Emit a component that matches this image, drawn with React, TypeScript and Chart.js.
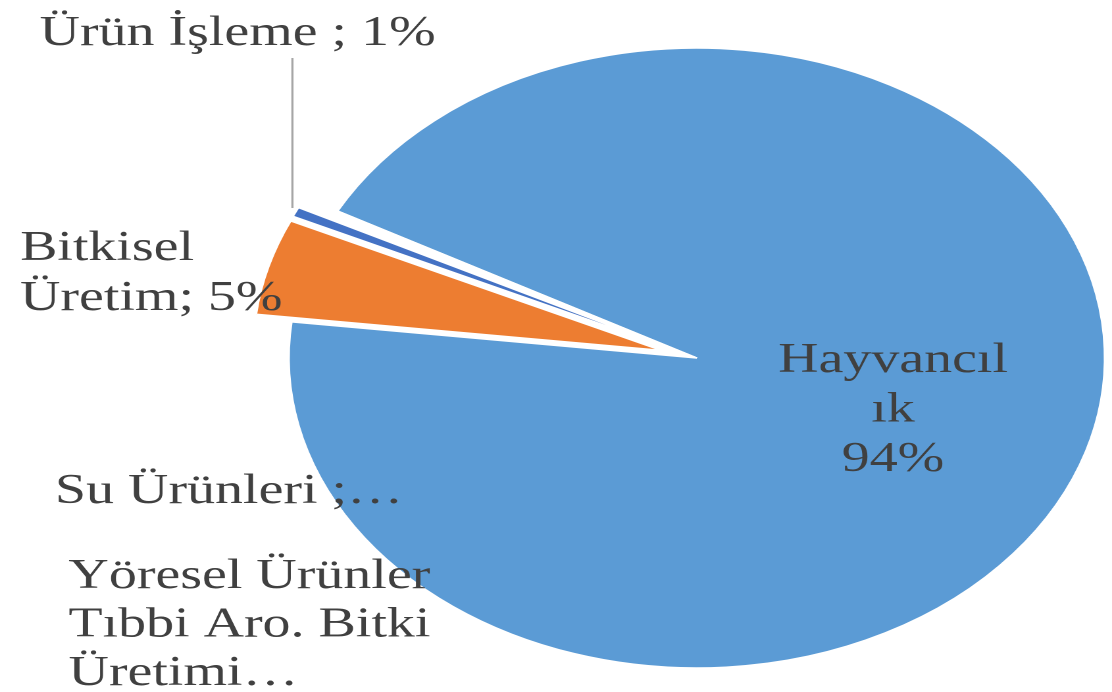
import React, { useEffect, useRef } from "react";
import { Chart, registerables } from "chart.js";

Chart.register(...registerables);

// ---- data ----
const categories = [
  "Hayvancılık",
  "Bitkisel Üretim",
  "Ürün İşleme",
  "Su Ürünleri",
  "Yöresel Ürünler Tıbbi Aro. Bitki Üretimi",
];
const shares = [94.0, 5.0, 0.5, 0.25, 0.25];
const pctText = ["94%", "5%", "1%"];

// ---- style ----
const STRETCH = 1.316;
const WIDTH = 1112;
const HEIGHT = 692;
const LOGICAL_W = Math.round(WIDTH / STRETCH);
const colors = ["#5B9BD5", "#ED7D31", "#4472C4", "#FFFFFF", "#FFFFFF"];
const explode = [0, 28, 28, 0, 0];
const FONT = "42.5px 'Liberation Serif', 'Times New Roman', serif";
const TEXT_COLOR = "#404040";

export default function App() {
  const ref = useRef<HTMLCanvasElement | null>(null);

  useEffect(() => {
    if (!ref.current) return;

    const explodePlugin = {
      id: "explode",
      beforeDatasetDraw(chart: any, args: any) {
        const ctx = chart.ctx;
        args.meta.data.forEach((arc: any, i: number) => {
          const ex = explode[i] || 0;
          const mid = (arc.startAngle + arc.endAngle) / 2;
          ctx.save();
          ctx.translate(Math.cos(mid) * ex, Math.sin(mid) * ex);
          arc.draw(ctx);
          ctx.restore();
        });
        return false;
      },
    };

    const labelPlugin = {
      id: "labels",
      afterDraw(chart: any) {
        const ctx = chart.ctx;
        const arcs = chart.getDatasetMeta(0).data;
        ctx.save();
        ctx.font = FONT;
        ctx.fillStyle = TEXT_COLOR;
        ctx.textBaseline = "alphabetic";

        // Hayvancılık (inside)
        ctx.textAlign = "center";
        const l0 = [categories[0].slice(0, 9), categories[0].slice(9), pctText[0]];
        l0.forEach((t, k) => ctx.fillText(t, 678.6, 372 + k * 49.5));

        // Bitkisel Üretim
        ctx.textAlign = "left";
        const l1 = ["Bitkisel", "Üretim; " + pctText[1]];
        l1.forEach((t, k) => ctx.fillText(t, 15.2, 260 + k * 50));

        // Ürün İşleme with leader line
        ctx.textAlign = "center";
        ctx.fillText(categories[2] + " ; " + pctText[2], 180.5, 45);
        const a = arcs[2];
        const mid = (a.startAngle + a.endAngle) / 2;
        const r = a.outerRadius + explode[2];
        const ax = a.x + Math.cos(mid) * r;
        const ay = a.y + Math.sin(mid) * r;
        const lx = ax - 2.5;
        ctx.strokeStyle = "#A6A6A6";
        ctx.lineWidth = 1.6;
        ctx.beginPath();
        ctx.moveTo(lx, 58);
        ctx.lineTo(lx, ay - 4);
        ctx.stroke();

        // Su Ürünleri
        ctx.textAlign = "left";
        ctx.fillText(categories[3] + " ;…", 41.8, 503);

        // Yöresel
        const l4 = ["Yöresel Ürünler", "Tıbbi Aro. Bitki", "Üretimi…"];
        l4.forEach((t, k) => ctx.fillText(t, 52, 588 + k * 48.5));
        ctx.restore();
      },
    };

    const chart = new Chart(ref.current, {
      type: "pie",
      data: {
        labels: categories,
        datasets: [
          {
            data: shares,
            backgroundColor: colors,
            borderColor: "#FFFFFF",
            borderWidth: 1.5,
          },
        ],
      },
      options: {
        animation: false,
        responsive: false,
        devicePixelRatio: 2,
        rotation: 298.3,
        radius: 310,
        layout: { padding: { left: 214, right: 0, top: 24, bottom: 0 } },
        plugins: {
          legend: { display: false },
          tooltip: { enabled: false },
        },
      } as any,
      plugins: [explodePlugin, labelPlugin],
    });
    return () => chart.destroy();
  }, []);

  return (
    <div
      style={{
        position: "fixed",
        left: 0,
        top: 0,
        width: WIDTH,
        height: HEIGHT,
        overflow: "hidden",
        background: "#fff",
      }}
    >
      <div
        style={{
          width: LOGICAL_W,
          height: HEIGHT,
          transform: `scaleX(${WIDTH / LOGICAL_W})`,
          transformOrigin: "0 0",
        }}
      >
        <canvas ref={ref} width={LOGICAL_W} height={HEIGHT} />
      </div>
    </div>
  );
}
